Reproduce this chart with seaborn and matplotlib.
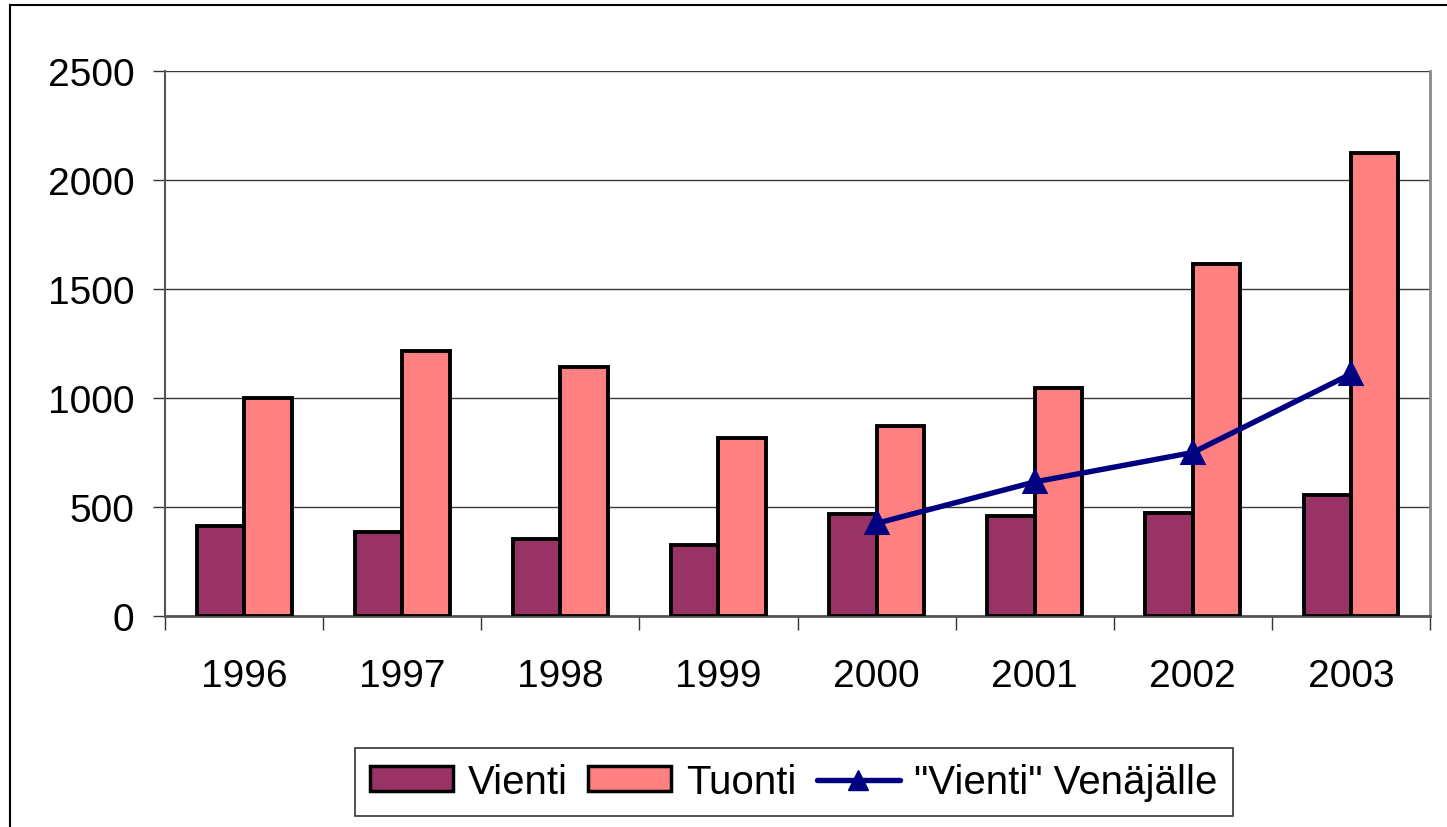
import numpy as np
import pandas as pd
import matplotlib
matplotlib.use("Agg")
import matplotlib.pyplot as plt
import seaborn as sns
from matplotlib.patches import Patch, Rectangle
from matplotlib.lines import Line2D

years = ["1996", "1997", "1998", "1999", "2000", "2001", "2002", "2003"]
vienti = [415, 385, 355, 327, 470, 458, 471, 556]
tuonti = [1000, 1215, 1140, 815, 870, 1045, 1615, 2125]
venaja_years = ["2000", "2001", "2002", "2003"]
venaja = [425, 615, 750, 1110]
series_names = ["Vienti", "Tuonti", '"Vienti" Venäjälle']
yticks = [0, 500, 1000, 1500, 2000, 2500]

sns.set_style("white")
plt.rcParams["font.family"] = ["Liberation Sans", "DejaVu Sans"]
plt.rcParams["text.color"] = "black"
plt.rcParams["xtick.color"] = "black"
plt.rcParams["ytick.color"] = "black"
plt.rcParams["xtick.labelcolor"] = "black"
plt.rcParams["ytick.labelcolor"] = "black"

bar_df = pd.DataFrame({
    "year": years * 2,
    "value": vienti + tuonti,
    "series": [series_names[0]] * len(years) + [series_names[1]] * len(years),
})
line_df = pd.DataFrame({"year": venaja_years, "value": venaja})

W, H = 1447, 828
fig = plt.figure(figsize=(W / 100, H / 100), dpi=100)
ax = fig.add_axes([165 / W, 1 - 617 / H, (1430 - 165) / W, (617 - 72) / H])

colors = ["#993366", "#FF8080"]
sns.barplot(data=bar_df, x="year", y="value", hue="series", order=years,
            hue_order=series_names[:2], palette=colors, width=0.6, gap=0,
            edgecolor="black", linewidth=2.8, saturation=1, legend=False, ax=ax)
for p in ax.patches:
    p.set_zorder(3)

sns.pointplot(data=line_df, x="year", y="value", order=years, color="#000080",
              markers="^", linestyles="-", errorbar=None, markersize=15,
              linewidth=3.9, ax=ax)
for l in ax.lines:
    l.set_zorder(5)
    l.set_clip_on(False)

ax.set_xlim(-0.5, 7.5)
ax.set_ylim(0, 2500)
ax.set_yticks(yticks)
ax.set_xlabel("")
ax.set_ylabel("")
ax.yaxis.grid(True, color="#3a3a3a", linewidth=1.0, zorder=0)
ax.set_axisbelow(True)
ax.set_xticks(np.arange(-0.5, 8, 1), minor=True)
ax.tick_params(axis="x", which="major", length=0, pad=30, labelsize=28,
               labelcolor="black")
ax.tick_params(axis="x", which="minor", length=10, width=1, color="#333333",
               direction="out", bottom=True)
ax.tick_params(axis="y", which="major", length=9, width=1, color="#333333",
               direction="out", left=True, pad=13, labelsize=28,
               labelcolor="black")
ax.spines["top"].set_visible(False)
ax.spines["left"].set_color("#555555")
ax.spines["left"].set_linewidth(1.5)
ax.spines["bottom"].set_color("#555555")
ax.spines["bottom"].set_linewidth(2)
ax.spines["right"].set_color("#888888")
ax.spines["right"].set_linewidth(2)

# outer chart border
fig.patches.append(Rectangle((10 / W, -0.05), 1.05, 1 - 6 / H + 0.05,
                             transform=fig.transFigure, fill=False,
                             edgecolor="black", linewidth=1.5))

handles = [
    Patch(facecolor=colors[0], edgecolor="black", linewidth=2.5),
    Patch(facecolor=colors[1], edgecolor="black", linewidth=2.5),
    Line2D([], [], color="#000080", marker="^", markersize=15, linewidth=3.9),
]
leg = fig.legend(handles, series_names, ncol=3, loc="center",
                 bbox_to_anchor=(794 / W, 1 - 783 / H), fontsize=29,
                 frameon=True, fancybox=False, edgecolor="black",
                 handlelength=2.06, handleheight=0.57, handletextpad=0.37,
                 columnspacing=0.5, borderpad=0.37, borderaxespad=0)
leg.get_frame().set_linewidth(1.2)
for t in leg.get_texts():
    t.set_color("black")

fig.savefig("out.png", dpi=100)
